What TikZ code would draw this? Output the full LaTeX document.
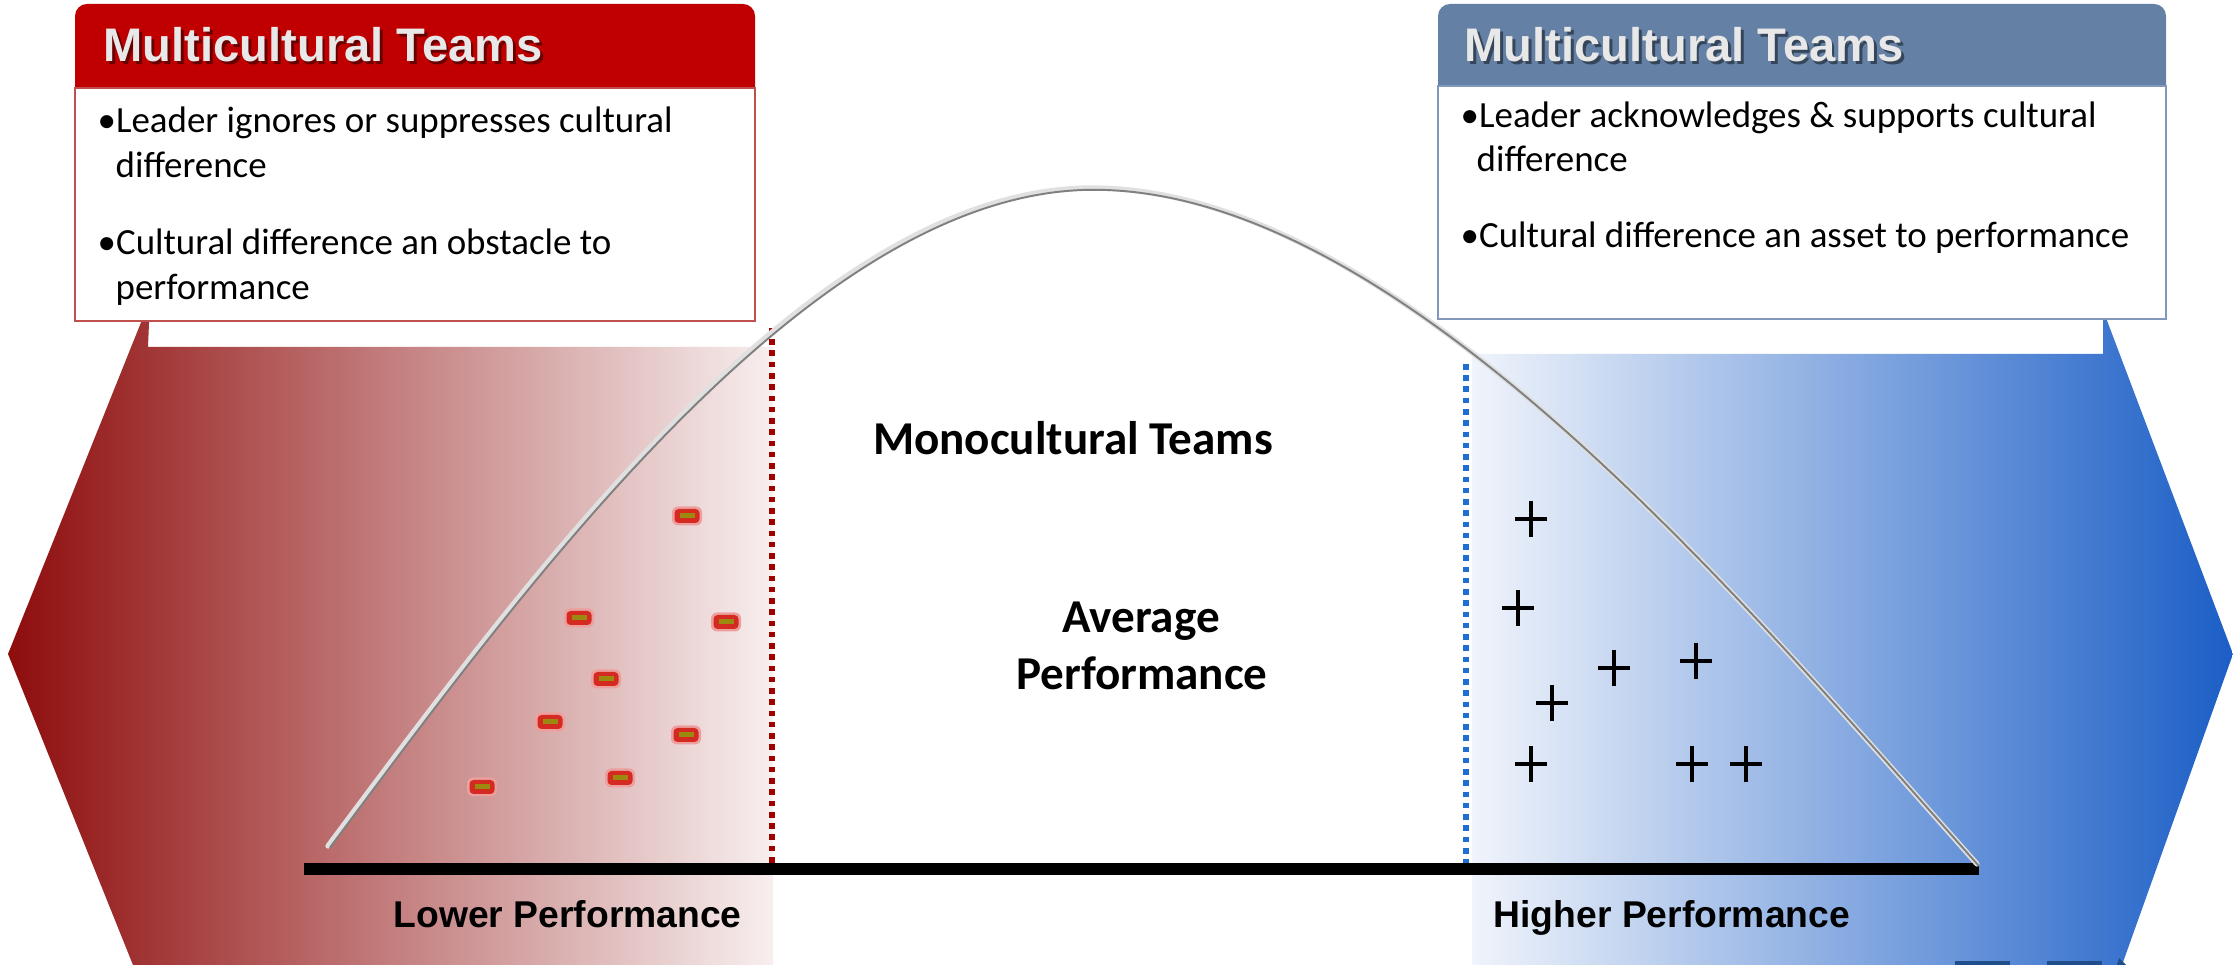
\documentclass[tikz,border=0pt]{standalone}
\usepackage{fontspec}
\setmainfont{Carlito}
\newfontfamily\arialfont{Liberation Sans}
\definecolor{hdrred}{HTML}{C00000}
\definecolor{hdrblue}{HTML}{6480A5}
\definecolor{boxred}{HTML}{C0504D}
\definecolor{boxblue}{HTML}{8197BC}
\definecolor{titlegray}{HTML}{E8E8E8}
\definecolor{redL}{HTML}{8E0C0C}
\definecolor{redM}{HTML}{D2B4B4}
\definecolor{redR}{HTML}{F8EFEF}
\definecolor{blueL}{HTML}{F0F4FB}
\definecolor{blueM}{HTML}{BAC4E2}
\definecolor{blueR}{HTML}{1B5EC6}
\definecolor{dotred}{HTML}{A00000}
\definecolor{dotblue}{HTML}{1F6FD0}
\definecolor{markred}{HTML}{D42A22}
\definecolor{markolive}{HTML}{9C8A10}
\definecolor{darkblue}{HTML}{1F4E8A}
\begin{document}
\begin{tikzpicture}[x=0.01cm, y=-0.01cm,
  bulletline/.style={anchor=base west, inner sep=0, font=\fontsize{10.5}{12}\selectfont},
  titletext/.style={anchor=base west, inner sep=0, text=titlegray, font=\arialfont\bfseries\fontsize{13.4}{16}\selectfont},
  titleshadow/.style={anchor=base west, inner sep=0, text=black, opacity=0.45, font=\arialfont\bfseries\fontsize{13.4}{16}\selectfont},
  centertext/.style={anchor=base, inner sep=0, font=\bfseries\fontsize{13.4}{16}\selectfont},
  axistext/.style={anchor=base west, inner sep=0, font=\arialfont\bfseries\fontsize{10.6}{12}\selectfont},
  dotline/.style={line width=1.6pt, dash pattern=on 1.6pt off 1.6pt},
  minusmark/.pic={
    \fill[markred!45, rounded corners=0.06cm] (-15,-9.5) rectangle (15,9.5);
    \fill[markred, rounded corners=0.04cm] (-12.5,-7) rectangle (12.5,7);
    \fill[markolive] (-7.5,-2.5) rectangle (7.5,2.5);
  },
  plusmark/.pic={
    \draw[line width=1.4pt] (-16,0) -- (16,0) (0,-18) -- (0,18);
  }
]
\useasboundingbox (0,0) rectangle (2233,965);
\fill[white] (0,0) rectangle (2233,965);

% gradient chevron shapes
\shade[left color=redL, middle color=redM, right color=redR]
  (150,300) -- (148,347) -- (773,347) -- (773,965) -- (133,965) -- (8,654) -- cycle;
\shade[left color=blueL, middle color=blueM, right color=blueR]
  (1472,354) -- (2103,354) -- (2103,310) -- (2233,654) -- (2122,965) -- (1472,965) -- cycle;
\fill[darkblue] (1955,961) rectangle (2010,965);
\fill[darkblue] (2047,961) rectangle (2102,965);
\fill[darkblue] (2119,958) -- (2126,965) -- (2117,965) -- cycle;

% dotted separators
\draw[dotline, dotred] (772,328) -- (772,868);
\draw[dotline, dotblue] (1466,364) -- (1466,866);

% axis
\draw[line width=3.4pt] (304,869) -- (1979,869);

% bell curve
\draw[line width=1.5pt, color=black!12, line cap=round]
  (328,846) .. controls (528,578) and (812,188) .. (1092,188)
            .. controls (1400,188) and (1744,603) .. (1977,864);
\draw[line width=0.55pt, color=black!50, xshift=0.018cm, yshift=-0.018cm]
  (328,846) .. controls (528,578) and (812,188) .. (1092,188)
            .. controls (1400,188) and (1744,603) .. (1977,864);

% minus markers
\foreach \p in {(687,516),(579,618),(726,622),(606,679),(550,722),(686,735),(620,778),(482,787)}
  \pic at \p {minusmark};
% plus markers
\foreach \p in {(1531,519),(1518,608),(1614,668),(1696,661),(1552,703),(1531,764),(1692,764),(1746,764)}
  \pic at \p {plusmark};

% left box
\fill[hdrred, rounded corners=0.12cm] (75,4) rectangle (755,110);
\draw[boxred, line width=0.6pt, fill=white] (75,88) rectangle (755,321);
\node[titleshadow] (ltitleshadow) at (105.5,64.5) {Multicultural Teams};
\node[titletext] (ltitle) at (103,62) {Multicultural Teams};
\node[bulletline] (l1) at (97,133) {•Leader ignores or suppresses cultural};
\node[bulletline] (l2) at (115,178) {difference};
\node[bulletline] (l3) at (97,255) {•Cultural difference an obstacle to};
\node[bulletline] (l4) at (115,300) {performance};

% right box
\fill[hdrblue, rounded corners=0.12cm] (1438,4) rectangle (2166,110);
\draw[boxblue, line width=0.6pt, fill=white] (1438,86) rectangle (2166,319);
\node[titleshadow] (rtitleshadow) at (1466.5,64.5) {Multicultural Teams};
\node[titletext] (rtitle) at (1464,62) {Multicultural Teams};
\node[bulletline] (r1) at (1460,128) {•Leader acknowledges \& supports cultural};
\node[bulletline] (r2) at (1476,172) {difference};
\node[bulletline] (r3) at (1460,248) {•Cultural difference an asset to performance};

% centre texts
\node[centertext] (mono) at (1073,455) {Monocultural Teams};
\node[centertext] (avg1) at (1141,633) {Average};
\node[centertext] (avg2) at (1142,690) {Performance};

% axis labels
\node[axistext] (lower) at (393,928) {Lower Performance};
\node[axistext] (higher) at (1493,928) {Higher Performance};
\end{tikzpicture}
\end{document}
